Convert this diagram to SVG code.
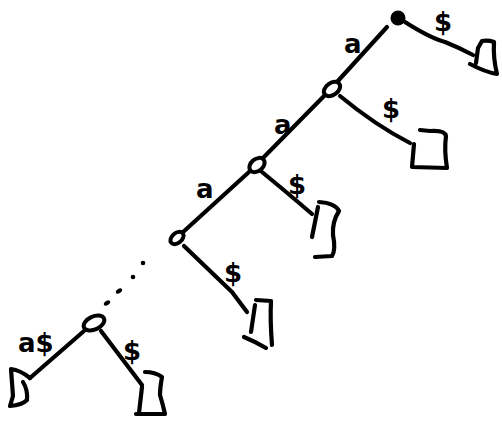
<svg xmlns="http://www.w3.org/2000/svg" width="502" height="425" viewBox="0 0 502 425">
<style>
.ln{fill:none;stroke:#000;stroke-width:4.2;stroke-linecap:round;stroke-linejoin:round}
.nd{fill:#fff;stroke:#000;stroke-width:4}
.lb{font-family:"DejaVu Sans",sans-serif;font-size:26px;font-weight:bold;fill:#000}
.dot{fill:#000}
</style>
<rect width="502" height="425" fill="#fff"/>
<g id="connectors">
<path class="ln" d="M387,27 L337,82"/>
<path class="ln" d="M405,22 Q430,38 445,42 Q460,48 473,55"/>
<path class="ln" d="M340,96 Q375,125 410,143"/>
<path class="ln" d="M325,95 L262,159"/>
<path class="ln" d="M262,172 Q290,195 312,214"/>
<path class="ln" d="M249,172 L182,233"/>
<path class="ln" d="M184,246 L232,292 L247,312"/>
<path class="ln" d="M84,331 L30,378"/>
<path class="ln" d="M101,331 L142,385"/>
<circle class="dot" cx="143" cy="263" r="2.3"/>
<circle class="dot" cx="133" cy="277" r="2.3"/>
<ellipse class="dot" cx="119" cy="291" rx="3.5" ry="2.2" transform="rotate(-35 119 291)"/>
<ellipse class="dot" cx="107" cy="303" rx="3.5" ry="2.2" transform="rotate(-35 107 303)"/>
</g>
<g id="root"><circle cx="398" cy="18" r="7.5" fill="#000"/></g>
<g id="n1"><ellipse class="nd" cx="332" cy="89" rx="9" ry="6" transform="rotate(-35 332 89)"/></g>
<g id="n2"><ellipse class="nd" cx="257" cy="165" rx="8.5" ry="6" transform="rotate(-40 257 165)"/></g>
<g id="n3"><ellipse class="nd" cx="177" cy="238" rx="7.5" ry="5" transform="rotate(-40 177 238)"/></g>
<g id="n4"><ellipse class="nd" cx="94" cy="323" rx="11" ry="6.5" transform="rotate(-25 94 323)"/></g>
<g id="leaf1"><path class="ln" d="M478,48 L476,63 M470,64 Q485,72 497,74 Q493,58 494,42 Q488,40 482,41 L478,48"/></g>
<g id="leaf2"><path class="ln" d="M414,144 L412,167 L447,168 Q444,150 446,136 Q445,130 430,131 L420,130"/></g>
<g id="leaf3"><path class="ln" d="M318,207 L312,237 M319,202 Q335,203 339,211 Q332,222 333,235 Q336,250 332,256 L315,257"/></g>
<g id="leaf4"><path class="ln" d="M255,305 L251,332 M256,300 L271,301 Q270,320 272,345 M244,337 Q256,342 266,348"/></g>
<g id="leaf5"><path class="ln" d="M30,378 Q20,370 11,369 L13,396 L10,406 Q22,405 27,400 Q28,390 23,382"/></g>
<g id="leaf6"><path class="ln" d="M142,387 L139,413 M145,372 Q155,372 162,377 Q160,388 160,395 Q163,405 165,414 L136,414"/></g>
<g id="labels">
<text class="lb" x="344" y="53">a</text>
<text class="lb" x="434" y="31">$</text>
<text class="lb" x="274" y="134">a</text>
<text class="lb" x="382" y="118">$</text>
<text class="lb" x="196" y="198">a</text>
<text class="lb" x="288" y="194">$</text>
<text class="lb" x="224" y="282">$</text>
<text class="lb" x="18" y="352">a$</text>
<text class="lb" x="123" y="360">$</text>
</g>
</svg>
